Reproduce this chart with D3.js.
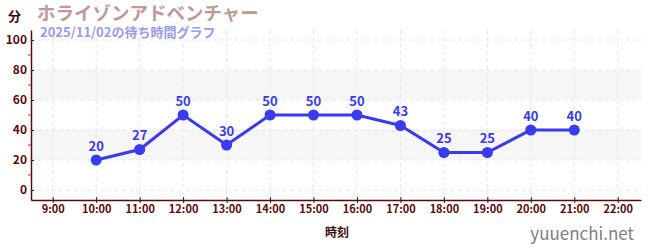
<!DOCTYPE html>
<html lang="ja">
<head>
<meta charset="UTF-8">
<script src="https://cdn.jsdelivr.net/npm/d3@7"></script>
<style>
  body { margin: 0; background: #fff; }
  svg text { font-family: "Noto Sans CJK JP", "Noto Sans", sans-serif; }
</style>
</head>
<body>
<div id="chart"></div>
<script>
// chart data
var hours = [10, 11, 12, 13, 14, 15, 16, 17, 18, 19, 20, 21];
var waits = [20, 27, 50, 30, 50, 50, 50, 43, 25, 25, 40, 40];
var xTicks = [9, 10, 11, 12, 13, 14, 15, 16, 17, 18, 19, 20, 21, 22];
var yTicks = [0, 20, 40, 60, 80, 100];
var yMinor = [10, 30, 50, 70, 90];
var bands = [[20, 40], [60, 80]];
var title = "ホライゾンアドベンチャー";
var subtitle = "2025/11/02の待ち時間グラフ";

var W = 650, H = 250;
var plotL = 31, plotR = 641, plotT = 30, plotB = 200;

var svg = d3.select("#chart").append("svg")
    .attr("width", W).attr("height", H);

var x = d3.scaleLinear().domain([8.5, 22.535]).range([plotL, plotR]);
var y = d3.scaleLinear().domain([-6.67, 106.67]).range([plotB, plotT]);

var axisColor = "#5a0a0a";
var lineColor = "#3a3aee";

// shaded bands
svg.selectAll("rect.band")
    .data(bands)
    .enter().append("rect")
    .attr("x", plotL).attr("width", plotR - plotL)
    .attr("y", function (d) { return y(d[1]); })
    .attr("height", function (d) { return y(d[0]) - y(d[1]); })
    .attr("fill", "#f6f6f6");

// grid
svg.selectAll("line.hg")
    .data(yTicks).enter().append("line")
    .attr("x1", plotL).attr("x2", plotR)
    .attr("y1", function (d) { return y(d); })
    .attr("y2", function (d) { return y(d); })
    .attr("stroke", "#e6e6e6").attr("stroke-dasharray", "4,3");
svg.selectAll("line.vg")
    .data(xTicks).enter().append("line")
    .attr("y1", plotT).attr("y2", plotB)
    .attr("x1", function (d) { return x(d); })
    .attr("x2", function (d) { return x(d); })
    .attr("stroke", "#e6e6e6").attr("stroke-dasharray", "4,3");

// y axis
var yAxis = svg.append("g")
    .attr("transform", "translate(" + plotL + ",0)")
    .call(d3.axisLeft(y).tickValues(yTicks).tickSize(3).tickSizeOuter(0));
yAxis.selectAll(".tick line").attr("x2", 3).attr("stroke", "#222");
yAxis.select(".domain").attr("stroke", axisColor).attr("stroke-width", 1.5);
yAxis.selectAll("text")
    .attr("fill", axisColor)
    .style("font-size", "12px")
    .style("font-weight", "bold")
    .attr("x", -4);

svg.selectAll("line.ymin")
    .data(yMinor).enter().append("line")
    .attr("x1", plotL - 3).attr("x2", plotL)
    .attr("y1", function (d) { return y(d); })
    .attr("y2", function (d) { return y(d); })
    .attr("stroke", "#e02020");

// x axis
var xAxis = svg.append("g")
    .attr("transform", "translate(0," + plotB + ")")
    .call(d3.axisBottom(x).tickValues(xTicks).tickSize(3).tickSizeOuter(0)
        .tickFormat(function (d) { return d + ":00"; }));
xAxis.selectAll(".tick line").attr("y1", -3).attr("stroke", "#222");
xAxis.select(".domain").attr("stroke", axisColor).attr("stroke-width", 1.5);
xAxis.selectAll("text")
    .attr("fill", axisColor)
    .style("font-size", "11px")
    .style("font-weight", "bold")
    .attr("y", 5);

// line + points
var pts = hours.map(function (h, i) { return [h, waits[i]]; });
svg.append("path")
    .datum(pts)
    .attr("fill", "none")
    .attr("stroke", lineColor)
    .attr("stroke-width", 3)
    .attr("d", d3.line()
        .x(function (d) { return x(d[0]); })
        .y(function (d) { return y(d[1]); }));

svg.selectAll("circle.pt")
    .data(pts).enter().append("circle")
    .attr("cx", function (d) { return x(d[0]); })
    .attr("cy", function (d) { return y(d[1]); })
    .attr("r", 5.5)
    .attr("fill", lineColor);

svg.selectAll("text.val")
    .data(pts).enter().append("text")
    .attr("x", function (d) { return x(d[0]); })
    .attr("y", function (d) { return y(d[1]) - 9; })
    .attr("text-anchor", "middle")
    .attr("fill", lineColor)
    .style("font-size", "13px")
    .style("font-weight", "bold")
    .text(function (d) { return d[1]; });

// titles
svg.append("text")
    .attr("x", 8).attr("y", 21)
    .attr("fill", "#3a0a0a")
    .style("font-size", "13px").style("font-weight", "bold")
    .text("分");
svg.append("text")
    .attr("x", 37).attr("y", 20)
    .attr("fill", "#c09898")
    .style("font-size", "18.5px").style("font-weight", "bold")
    .text(title);
svg.append("text")
    .attr("x", 40).attr("y", 37)
    .attr("fill", "#9a9af0")
    .style("font-size", "13px").style("font-weight", "bold")
    .text(subtitle);

svg.append("text")
    .attr("x", 337).attr("y", 237)
    .attr("text-anchor", "middle")
    .attr("fill", "#3a0a0a")
    .style("font-size", "12px").style("font-weight", "bold")
    .text("時刻");

svg.append("text")
    .attr("x", 634).attr("y", 240)
    .attr("text-anchor", "end")
    .attr("fill", "#808080")
    .style("font-size", "17px")
    .text("yuuenchi.net");
</script>
</body>
</html>
